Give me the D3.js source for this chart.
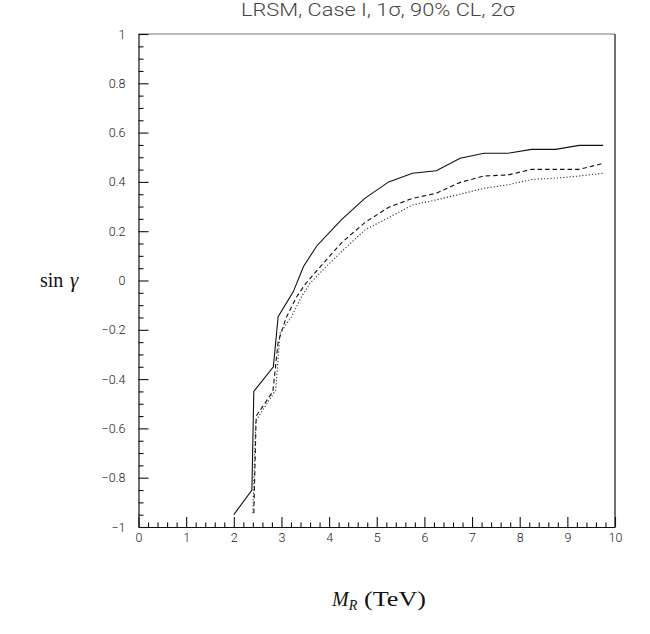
<!DOCTYPE html>
<html>
<head>
<meta charset="utf-8">
<script src="https://cdn.jsdelivr.net/npm/d3@7"></script>
<style>
  html, body { margin: 0; padding: 0; background: #fff; }
  svg { display: block; }
</style>
</head>
<body>
<svg id="chart" width="650" height="634"></svg>
<script>
// ---- data ----
const xTicks = [0, 1, 2, 3, 4, 5, 6, 7, 8, 9, 10];
const yTicks = [-1, -0.8, -0.6, -0.4, -0.2, 0, 0.2, 0.4, 0.6, 0.8, 1];
const yTickLabels = ["\u22121", "\u22120.8", "\u22120.6", "\u22120.4", "\u22120.2", "0", "0.2", "0.4", "0.6", "0.8", "1"];

// 1 sigma (solid)
const solidX = [2.0, 2.38, 2.42, 2.83, 2.93, 3.25, 3.46, 3.74, 4.25, 4.75, 5.25, 5.75, 6.25, 6.75, 7.25, 7.75, 8.25, 8.75, 9.25, 9.75];
const solidY = [-0.95, -0.85, -0.45, -0.35, -0.147, -0.045, 0.056, 0.14, 0.245, 0.333, 0.40, 0.435, 0.445, 0.496, 0.516, 0.516, 0.532, 0.532, 0.548, 0.548];
// 90% CL (dashed)
const dashX = [2.42, 2.47, 2.82, 2.93, 3.1, 3.32, 3.5, 3.72, 4.25, 4.75, 5.25, 5.75, 6.25, 6.75, 7.25, 7.75, 8.25, 8.75, 9.25, 9.75];
const dashY = [-0.944, -0.55, -0.45, -0.25, -0.15, -0.066, -0.015, 0.035, 0.151, 0.235, 0.297, 0.333, 0.354, 0.398, 0.424, 0.428, 0.451, 0.451, 0.451, 0.475];
// 2 sigma (dotted)
const dotX = [2.40, 2.46, 2.88, 2.97, 3.21, 3.42, 3.6, 3.88, 4.25, 4.75, 5.25, 5.75, 6.25, 6.75, 7.25, 7.75, 8.25, 8.75, 9.25, 9.75];
const dotY = [-0.943, -0.57, -0.444, -0.214, -0.147, -0.066, -0.011, 0.045, 0.115, 0.205, 0.255, 0.306, 0.327, 0.35, 0.374, 0.388, 0.41, 0.415, 0.424, 0.435];

// ---- layout ----
const svg = d3.select("#chart");
const L = 138.5, R = 615, T = 34, B = 527;
const x = d3.scaleLinear().domain([0, 10]).range([L, R]);
const y = d3.scaleLinear().domain([-1, 1]).range([B, T]);

const tickFont = "Roboto, 'DejaVu Sans', sans-serif";
const serif = "'Liberation Serif', 'DejaVu Serif', serif";

// frame
svg.append("line").attr("x1", L).attr("x2", R).attr("y1", T).attr("y2", T)
  .attr("stroke", "#777").attr("stroke-width", 1.2);
svg.append("line").attr("x1", R).attr("x2", R).attr("y1", T).attr("y2", B)
  .attr("stroke", "#111").attr("stroke-width", 1.2);

// x axis: minor ticks
const xMinor = d3.range(0, 50).map(i => i * 0.2).filter(v => Math.abs(v - Math.round(v)) > 1e-6);
svg.append("g").attr("transform", `translate(0,${B})`)
  .call(d3.axisBottom(x).tickValues(xMinor).tickSize(-4.5).tickFormat(""))
  .call(g => g.select(".domain").remove())
  .selectAll("line").attr("stroke", "#111").attr("stroke-width", 1.1);
// x axis: major ticks & labels
svg.append("g").attr("transform", `translate(0,${B})`)
  .call(d3.axisBottom(x).tickValues(xTicks).tickSizeInner(-10).tickSizeOuter(0).tickPadding(6).tickFormat(d3.format("d")))
  .call(g => g.select(".domain").attr("stroke", "#111").attr("stroke-width", 1.2))
  .call(g => g.selectAll("line").attr("stroke", "#111").attr("stroke-width", 1.1))
  .call(g => g.selectAll("text").attr("font-family", tickFont).attr("font-weight", 300)
    .attr("font-size", 12.5).attr("fill", "#222"));

// y axis: minor ticks
const yMinor = d3.range(0, 41).map(i => -1 + i * 0.05).filter(v => Math.abs(v * 5 - Math.round(v * 5)) > 1e-6);
svg.append("g").attr("transform", `translate(${L},0)`)
  .call(d3.axisLeft(y).tickValues(yMinor).tickSize(-5).tickFormat(""))
  .call(g => g.select(".domain").remove())
  .selectAll("line").attr("stroke", "#111").attr("stroke-width", 1.1);
// y axis: major ticks & labels
svg.append("g").attr("transform", `translate(${L},0)`)
  .call(d3.axisLeft(y).tickValues(yTicks).tickSizeInner(-10).tickSizeOuter(0).tickPadding(13)
    .tickFormat((d, i) => yTickLabels[i]))
  .call(g => g.select(".domain").attr("stroke", "#111").attr("stroke-width", 1.2))
  .call(g => g.selectAll("line").attr("stroke", "#111").attr("stroke-width", 1.1))
  .call(g => g.selectAll("text").attr("font-family", tickFont).attr("font-weight", 300)
    .attr("font-size", 12.5).attr("fill", "#222"));

// curves
const line = d3.line().x(d => x(d[0])).y(d => y(d[1]));
const series = [
  { xs: solidX, ys: solidY, dash: null, color: "#111" },
  { xs: dashX, ys: dashY, dash: "4.5,3", color: "#111" },
  { xs: dotX, ys: dotY, dash: "1.2,2", color: "#333" }
];
series.forEach(s => {
  const pts = s.xs.map((v, i) => [v, s.ys[i]]);
  svg.append("path").datum(pts).attr("d", line)
    .attr("fill", "none").attr("stroke", s.color).attr("stroke-width", 1.1)
    .attr("stroke-dasharray", s.dash);
});

// title
svg.append("text").attr("x", 241).attr("y", 16)
  .attr("font-family", tickFont).attr("font-weight", 300).attr("font-size", 18)
  .attr("fill", "#444").attr("textLength", 274).attr("lengthAdjust", "spacingAndGlyphs")
  .text("LRSM, Case I, 1\u03c3, 90% CL, 2\u03c3");

// y label: sin γ
const yl = svg.append("text").attr("y", 287)
  .attr("font-family", serif).attr("font-size", 20).attr("fill", "#111");
yl.append("tspan").attr("x", 40).text("sin");
yl.append("tspan").attr("x", 70).attr("font-style", "italic").attr("font-size", 21).text("\u03b3");

// x label: M_R (TeV)
const xl = svg.append("text").attr("y", 606)
  .attr("font-family", serif).attr("font-size", 20).attr("fill", "#111");
xl.append("tspan").attr("x", 332).attr("font-style", "italic").text("M");
xl.append("tspan").attr("font-style", "italic").attr("font-size", 14).attr("dy", 4).text("R");
xl.append("tspan").attr("x", 364).attr("dy", -4)
  .attr("textLength", 62).attr("lengthAdjust", "spacingAndGlyphs").text("(TeV)");
</script>
</body>
</html>
